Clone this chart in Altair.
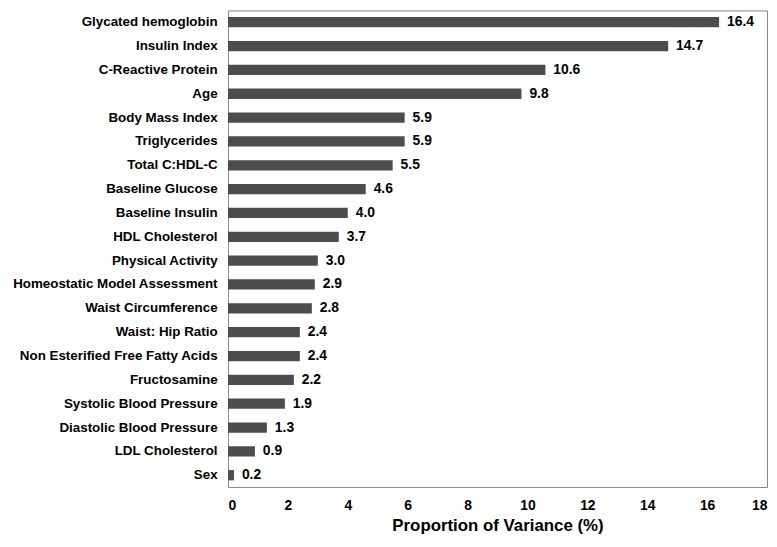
import altair as alt
import pandas as pd

categories = [
    "Glycated hemoglobin", "Insulin Index", "C-Reactive Protein", "Age",
    "Body Mass Index", "Triglycerides", "Total C:HDL-C", "Baseline Glucose",
    "Baseline Insulin", "HDL Cholesterol", "Physical Activity",
    "Homeostatic Model Assessment", "Waist Circumference", "Waist: Hip Ratio",
    "Non Esterified Free Fatty Acids", "Fructosamine", "Systolic Blood Pressure",
    "Diastolic Blood Pressure", "LDL Cholesterol", "Sex",
]
values = [16.4, 14.7, 10.6, 9.8, 5.9, 5.9, 5.5, 4.6, 4.0, 3.7, 3.0, 2.9, 2.8,
          2.4, 2.4, 2.2, 1.9, 1.3, 0.9, 0.2]
x_ticks = [0, 2, 4, 6, 8, 10, 12, 14, 16, 18]

df = pd.DataFrame({"cat": categories, "val": values})
df["lbl"] = df["val"].map(lambda v: f"{v:.1f}")

FONT = "Liberation Sans"

y_enc = alt.Y("cat:N", sort=categories, title=None,
              scale=alt.Scale(paddingInner=0.57, paddingOuter=0.28),
              axis=alt.Axis(labelFont=FONT, labelFontWeight="bold", labelFontSize=13.5,
                            labelColor="#000000", ticks=False, domain=False,
                            labelPadding=11, labelLimit=300))
x_enc = alt.X("val:Q", title="Proportion of Variance (%)",
              scale=alt.Scale(domain=[0, 18], nice=False),
              axis=alt.Axis(values=x_ticks, grid=False, ticks=False, domain=False,
                            labelFont=FONT, labelFontWeight="bold", labelFontSize=14,
                            labelColor="#000000", labelPadding=12,
                            titleFont=FONT, titleFontWeight="bold", titleFontSize=17,
                            titleColor="#000000", titlePadding=5))

bars = alt.Chart(df).mark_bar(color="#4d4d4d").encode(y=y_enc, x=x_enc)
text = alt.Chart(df).mark_text(align="left", dx=8, font=FONT, fontWeight="bold",
                               fontSize=14, color="#000000").encode(
    y=alt.Y("cat:N", sort=categories), x="val:Q", text="lbl:N")

chart = (bars + text).properties(
    width=544, height=481,
    autosize=alt.AutoSizeParams(type="none"),
    padding={"left": 222, "top": 0, "right": 2, "bottom": 50},
).configure_view(stroke="#888888", strokeWidth=1)

chart.save("out.html", embed_options={"renderer": "svg", "actions": False})
